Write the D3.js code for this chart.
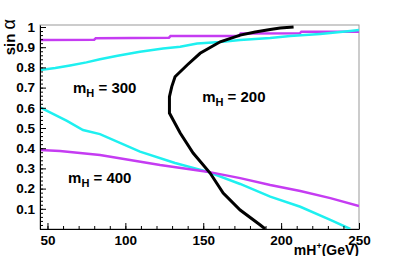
<!DOCTYPE html>
<html lang="en">
<head>
<meta charset="UTF-8">
<title>sin alpha vs mH+</title>
<script src="https://d3js.org/d3.v7.min.js"></script>
<style>
    body { margin: 0; background: #fff; }
    text { font-family: "Liberation Sans", Arial, Helvetica, sans-serif; font-weight: bold; }
</style>
</head>
<body>
<div id="chart"></div>
<script>
    // tick values
    var xTicks = [50, 100, 150, 200, 250];
    var yTicks = [0.1, 0.2, 0.3, 0.4, 0.5, 0.6, 0.7, 0.8, 0.9, 1];

    // mH = 400 (magenta), upper and lower branches
    var m400UpX = [45.2, 80, 81, 128, 129, 173, 174, 212, 213, 250];
    var m400UpY = [0.936, 0.937, 0.944, 0.947, 0.955, 0.956, 0.968, 0.969, 0.977, 0.977];
    var m400LoX = [45.2, 58, 70.9, 83.7, 103, 122.3, 152.5, 173.7, 193, 212.3, 231.6, 250];
    var m400LoY = [0.391, 0.386, 0.376, 0.366, 0.342, 0.317, 0.284, 0.252, 0.218, 0.188, 0.153, 0.114];

    // mH = 300 (cyan)
    var m300UpX = [45.2, 55, 64.5, 75, 83.7, 95, 109.4, 124.2, 135.2, 146.1, 160.9, 173.7, 193, 205.8, 225.1, 244.4, 250];
    var m300UpY = [0.787, 0.797, 0.81, 0.825, 0.84, 0.858, 0.878, 0.894, 0.902, 0.918, 0.926, 0.936, 0.946, 0.955, 0.966, 0.98, 0.985];
    var m300LoX = [45.2, 62.5, 72.8, 83.7, 109.4, 131.9, 152.5, 173.7, 193, 212.3, 231.6, 244.4];
    var m300LoY = [0.602, 0.535, 0.49, 0.47, 0.383, 0.327, 0.284, 0.223, 0.16, 0.11, 0.045, 0.0];

    // mH = 200 (black), traced top to bottom
    var m200X = [208, 199.4, 193, 183.4, 173.7, 160.9, 148, 139.7, 131.9, 129.8, 128.3, 128.3, 130.7, 135.2, 143.5, 154.4, 162.8, 173.7, 186.6, 189.8];
    var m200Y = [1.0, 0.995, 0.988, 0.975, 0.96, 0.927, 0.87, 0.812, 0.754, 0.705, 0.655, 0.574, 0.54, 0.475, 0.376, 0.277, 0.178, 0.094, 0.02, 0.0];

    var margin = {top: 25, right: 40, bottom: 27, left: 40},
        width = 399 - margin.left - margin.right,
        height = 256 - margin.top - margin.bottom;

    var svg = d3.select("#chart")
        .append("svg")
        .attr("width", 399)
        .attr("height", 256)
        .append("g")
        .attr("transform", "translate(" + margin.left + "," + margin.top + ")");

    var x = d3.scaleLinear().domain([45.2, 250]).range([0, width]);
    var y = d3.scaleLinear().domain([0, 1.01]).range([height, 0]);

    svg.append("clipPath").attr("id", "frame")
        .append("rect").attr("width", width).attr("height", height);

    // frame box
    svg.append("rect")
        .attr("width", width)
        .attr("height", height)
        .attr("fill", "none")
        .attr("stroke", "#999")
        .attr("stroke-width", 1);

    function zip(xs, ys) {
        return xs.map(function (d, i) { return [d, ys[i]]; });
    }

    var line = d3.line()
        .x(function (d) { return x(d[0]); })
        .y(function (d) { return y(d[1]); });

    var curves = [
        {pts: zip(m400UpX, m400UpY), color: "#c53cf2", w: 2.5},
        {pts: zip(m300UpX, m300UpY), color: "#1ef0f0", w: 2.5},
        {pts: zip(m300LoX, m300LoY), color: "#1ef0f0", w: 2.5},
        {pts: zip(m400LoX, m400LoY), color: "#c53cf2", w: 2.5},
        {pts: zip(m200X, m200Y), color: "#000", w: 3}
    ];

    svg.append("g").attr("clip-path", "url(#frame)")
        .selectAll("path")
        .data(curves)
        .enter().append("path")
        .attr("fill", "none")
        .attr("stroke", function (d) { return d.color; })
        .attr("stroke-width", function (d) { return d.w; })
        .attr("d", function (d) { return line(d.pts); });

    // minor ticks
    var xMinor = d3.range(50, 251, 10);
    var yMinor = d3.range(0, 101, 2).map(function (d) { return d / 100; });

    svg.append("g")
        .attr("transform", "translate(0," + height + ")")
        .call(d3.axisBottom(x).tickValues(xMinor).tickSize(-3).tickFormat(""))
        .call(function (g) { g.select(".domain").remove(); });

    svg.append("g")
        .call(d3.axisLeft(y).tickValues(yMinor).tickSize(-3).tickFormat(""))
        .call(function (g) { g.select(".domain").remove(); });

    // major axes
    svg.append("g")
        .attr("transform", "translate(0," + height + ")")
        .call(d3.axisBottom(x).tickValues(xTicks).tickSize(-6).tickSizeOuter(0).tickPadding(6));

    svg.append("g")
        .call(d3.axisLeft(y).tickValues(yTicks).tickSize(-6).tickSizeOuter(0).tickPadding(5)
            .tickFormat(function (d) { return d === 1 ? "1" : d3.format(".1f")(d); }));

    svg.selectAll(".tick text")
        .attr("fill", "#000")
        .style("font-size", "13.5px");
    svg.selectAll(".domain, .tick line").attr("stroke", "#000");

    // axis titles
    var xt = svg.append("text")
        .attr("x", width)
        .attr("y", height + 26)
        .attr("text-anchor", "end")
        .style("font-size", "14px");
    xt.append("tspan").text("mH");
    xt.append("tspan").attr("dy", -6).style("font-size", "9px").text("+");
    xt.append("tspan").attr("dy", 6).text("(GeV)");

    var yt = svg.append("text")
        .attr("transform", "translate(-25,-6) rotate(-90)")
        .attr("text-anchor", "end")
        .style("font-size", "15px");
    yt.append("tspan").text("sin ");
    yt.append("tspan").style("font-weight", "normal").style("font-size", "18px").text("α");

    // curve labels
    var labels = [
        {text: "300", gx: 66.4, sy: 0.673},
        {text: "200", gx: 149.3, sy: 0.629},
        {text: "400", gx: 63.2, sy: 0.228}
    ];

    labels.forEach(function (l) {
        var t = svg.append("text")
            .attr("x", x(l.gx))
            .attr("y", y(l.sy))
            .style("font-size", "15px");
        t.append("tspan").text("m");
        t.append("tspan").attr("dy", 4).style("font-size", "11px").text("H");
        t.append("tspan").attr("dy", -4).text(" = " + l.text);
    });
</script>
</body>
</html>
